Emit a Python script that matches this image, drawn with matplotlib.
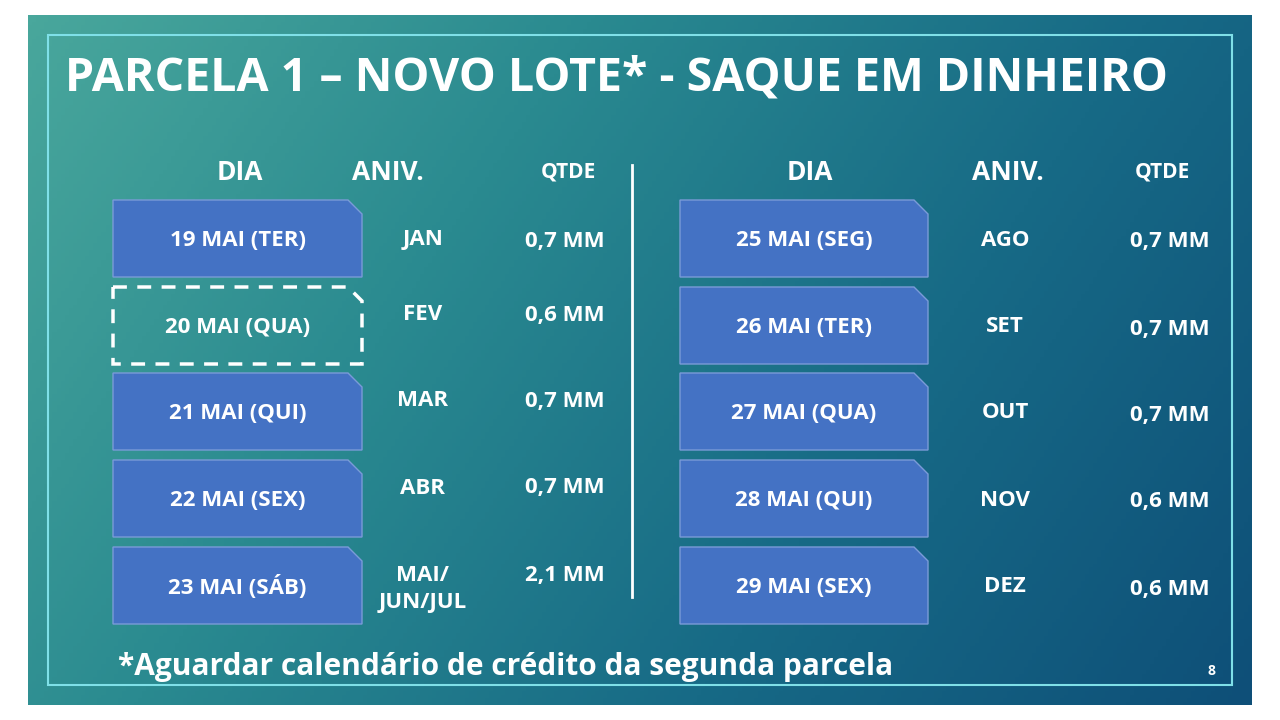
import numpy as np
import matplotlib
matplotlib.use("Agg")
import matplotlib.pyplot as plt
from matplotlib.patches import Polygon, Rectangle
from matplotlib.colors import LinearSegmentedColormap

title = "PARCELA 1 – NOVO LOTE* - SAQUE EM DINHEIRO"
headers = ["DIA", "ANIV.", "QTDE"]
left_days = ["19 MAI (TER)", "20 MAI (QUA)", "21 MAI (QUI)", "22 MAI (SEX)", "23 MAI (SÁB)"]
left_aniv = ["JAN", "FEV", "MAR", "ABR", "MAI/\nJUN/JUL"]
left_qtde = ["0,7 MM", "0,6 MM", "0,7 MM", "0,7 MM", "2,1 MM"]
right_days = ["25 MAI (SEG)", "26 MAI (TER)", "27 MAI (QUA)", "28 MAI (QUI)", "29 MAI (SEX)"]
right_aniv = ["AGO", "SET", "OUT", "NOV", "DEZ"]
right_qtde = ["0,7 MM", "0,7 MM", "0,7 MM", "0,6 MM", "0,6 MM"]
footnote = "*Aguardar calendário de crédito da segunda parcela"
page = "8"

plt.rcParams["font.family"] = "Open Sans"
fig = plt.figure(figsize=(12.8, 7.2), dpi=100)
ax = fig.add_axes([0, 0, 1, 1])
ax.set_xlim(0, 1280)
ax.set_ylim(720, 0)
ax.axis("off")

# slide background gradient
cmap = LinearSegmentedColormap.from_list("bg", ["#49a79c", "#2a8a90", "#176a86", "#0e4f78"])
gx, gy = np.meshgrid(np.linspace(0, 1, 300), np.linspace(0, 1, 200))
ax.imshow(0.8 * gx + 0.3 * gy, cmap=cmap, extent=(28, 1252, 705, 15), aspect="auto", vmin=0, vmax=1.1)
ax.add_patch(Rectangle((48, 35), 1184, 650, fill=False, ec="#7fe0e8", lw=1.5))

ax.text(65, 78, title, color="white", fontsize=33.5, fontweight="bold", va="center")


def box(x, y, w, h, dashed=False):
    c = 14
    pts = [(x, y), (x + w - c, y), (x + w, y + c), (x + w, y + h), (x, y + h)]
    if dashed:
        ax.add_patch(Polygon(pts, closed=True, fill=False, ec="white", lw=2.5, ls=(0, (4, 3))))
    else:
        ax.add_patch(Polygon(pts, closed=True, fc="#4472c4", ec="#7a9bd8", lw=1))


row_y = [200, 287, 373, 460, 547]
bh = 77
cols = [(113, 249, 423, 565, left_days, left_aniv, left_qtde, [240, 388, 568]),
        (680, 248, 1005, 1170, right_days, right_aniv, right_qtde, [810, 1008, 1162])]
for bx, bw, ax_x, q_x, days, aniv, qtde, hx in cols:
    for hxx, h in zip(hx, headers):
        ax.text(hxx, 172, h, color="white", fontsize=19 if h != "QTDE" else 15,
                fontweight="bold", ha="center", va="center")
    for i, y in enumerate(row_y):
        box(bx, y, bw, bh, dashed=(days[i] == "20 MAI (QUA)"))
        ax.text(bx + bw / 2, y + bh / 2 + 2, days[i], color="white", fontsize=16,
                fontweight="bold", ha="center", va="center")
        ay = y + 40 if ax_x > 640 else y + 40 - 12 * (i >= 1)
        if "\n" in aniv[i]:
            ay = y + 42
        ax.text(ax_x, ay, aniv[i], color="white", fontsize=16, fontweight="bold",
                ha="center", va="center", linespacing=1.4)
        qy = y + 42 if q_x > 640 else y + 42 - 14 * (i >= 1)
        ax.text(q_x, qy, qtde[i], color="white", fontsize=16, fontweight="bold",
                ha="center", va="center")

ax.plot([632, 632], [165, 597], color="white", lw=2)
ax.text(118, 667, footnote, color="white", fontsize=21.5, fontweight="bold", va="center")
ax.text(1212, 671, page, color="white", fontsize=10, fontweight="bold", ha="center", va="center")

fig.savefig("out.png", dpi=100, facecolor="white")
